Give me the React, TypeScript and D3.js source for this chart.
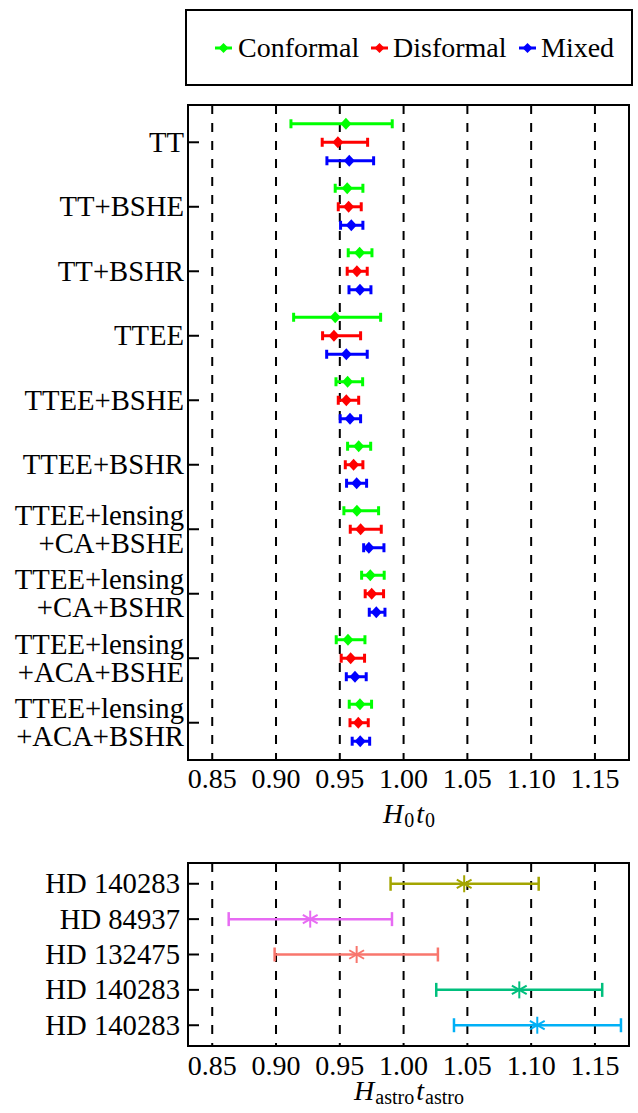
import React from "react";
import * as d3 from "d3";

const categories = [
  "TT", "TT+BSHE", "TT+BSHR", "TTEE", "TTEE+BSHE", "TTEE+BSHR",
  "TTEE+lensing\n+CA+BSHE", "TTEE+lensing\n+CA+BSHR",
  "TTEE+lensing\n+ACA+BSHE", "TTEE+lensing\n+ACA+BSHR",
];
const seriesNames = ["Conformal", "Disformal", "Mixed"];
const seriesColors = ["#00ff00", "#ff0000", "#0000ff"];
// [center, low, high] for each category
const conformal = [
  [0.9548, 0.9117, 0.9911], [0.9558, 0.9464, 0.9681], [0.9655, 0.9566, 0.9752],
  [0.9464, 0.9138, 0.9820], [0.9561, 0.9470, 0.9679], [0.9648, 0.9561, 0.9742],
  [0.9634, 0.9532, 0.9804], [0.9739, 0.9671, 0.9848], [0.9564, 0.9472, 0.9697],
  [0.9658, 0.9574, 0.9749],
];
const disformal = [
  [0.9485, 0.9362, 0.9718], [0.9569, 0.9488, 0.9668], [0.9634, 0.9558, 0.9715],
  [0.9454, 0.9365, 0.9663], [0.9551, 0.9488, 0.9648], [0.9608, 0.9543, 0.9681],
  [0.9663, 0.9582, 0.9825], [0.9750, 0.9699, 0.9843], [0.9585, 0.9511, 0.9694],
  [0.9645, 0.9580, 0.9723],
];
const mixed = [
  [0.9574, 0.9399, 0.9765], [0.9590, 0.9506, 0.9681], [0.9658, 0.9572, 0.9744],
  [0.9551, 0.9397, 0.9715], [0.9580, 0.9503, 0.9663], [0.9632, 0.9553, 0.9710],
  [0.9728, 0.9687, 0.9846], [0.9786, 0.9731, 0.9854], [0.9619, 0.9551, 0.9707],
  [0.9660, 0.9597, 0.9734],
];
const seriesData = [conformal, disformal, mixed];

const starNames = ["HD 140283", "HD 84937", "HD 132475", "HD 140283", "HD 140283"];
const starValues = [
  [1.0475, 0.9898, 1.1059], [0.9268, 0.8629, 0.9909], [0.9632, 0.8989, 1.0269],
  [1.0907, 1.0256, 1.1557], [1.1048, 1.0395, 1.1704],
];
const starColors = ["#a3a500", "#e76bf3", "#f8766d", "#00bf7d", "#00b0f6"];

const xTicks = [0.85, 0.9, 0.95, 1.0, 1.05, 1.1, 1.15];

const FONT = `"Liberation Serif", "Times New Roman", serif`;
const FS = 28;
const FSL = 28.7;
const SUB = 20;

export default function App() {
  const L = 188, R = 629;
  const x = d3.scaleLinear().domain([0.831, 1.1767]).range([L, R]);
  const top1 = 105, bot1 = 760;
  const y1 = d3.scalePoint<number>().domain(categories.map((_, i) => i)).range([top1, bot1]).padding(0.578);
  const top2 = 863, bot2 = 1046;
  const y2 = d3.scalePoint<number>().domain(starNames.map((_, i) => i)).range([top2, bot2]).padding(0.587);
  const offsets = [-18.5, 0, 18.5];

  const diamond = (cx: number, cy: number, w: number, h: number) =>
    `M${cx},${cy - h}L${cx + w},${cy}L${cx},${cy + h}L${cx - w},${cy}Z`;

  const grid = (t: number, b: number) =>
    xTicks.map((v) => (
      <line key={v} x1={x(v)} x2={x(v)} y1={t} y2={b} stroke="#000" strokeWidth={2} strokeDasharray="9,9" />
    ));

  const legendItems = [
    { x0: 215, tx: 238 },
    { x0: 371, tx: 393 },
    { x0: 519, tx: 541 },
  ];
  const ts: React.CSSProperties = { fontFamily: FONT };

  return (
    <svg width={638} height={1113} style={{ position: "absolute", left: 0, top: 0, background: "#fff" }}>
      {/* Legend */}
      <rect x={186} y={10} width={446} height={75} fill="#fff" stroke="#000" strokeWidth={2} />
      {seriesNames.map((n, i) => (
        <g key={n}>
          <line x1={legendItems[i].x0} x2={legendItems[i].x0 + 17} y1={48} y2={48} stroke={seriesColors[i]} strokeWidth={3} />
          <path d={diamond(legendItems[i].x0 + 8.5, 48, 5, 5)} fill={seriesColors[i]} />
          <text x={legendItems[i].tx} y={57} fontSize={FS} style={ts}>{n}</text>
        </g>
      ))}

      {/* Top panel */}
      {grid(top1, bot1)}
      {seriesData.map((ser, s) =>
        ser.map((d, i) => {
          const cy = (y1(i) as number) + offsets[s];
          const c = seriesColors[s];
          return (
            <g key={`${s}-${i}`}>
              <line x1={x(d[1])} x2={x(d[2])} y1={cy} y2={cy} stroke={c} strokeWidth={3} />
              <line x1={x(d[1])} x2={x(d[1])} y1={cy - 4.5} y2={cy + 4.5} stroke={c} strokeWidth={3} />
              <line x1={x(d[2])} x2={x(d[2])} y1={cy - 4.5} y2={cy + 4.5} stroke={c} strokeWidth={3} />
              <path d={diamond(x(d[0]), cy, 5.5, 6)} fill={c} />
            </g>
          );
        })
      )}
      <rect x={L} y={top1} width={R - L} height={bot1 - top1} fill="none" stroke="#000" strokeWidth={2} />
      {categories.map((c, i) => {
        const cy = y1(i) as number;
        const lines = c.split("\n");
        return (
          <g key={i}>
            <line x1={L} x2={L + 11} y1={cy} y2={cy} stroke="#000" strokeWidth={2} />
            {lines.map((ln, j) => (
              <text key={j} x={184} y={cy + 9.5 + (j - (lines.length - 1) / 2) * 28} fontSize={FSL} textAnchor="end" style={ts}>{ln}</text>
            ))}
          </g>
        );
      })}
      {xTicks.map((v) => (
        <text key={v} x={x(v)} y={788} fontSize={FS} textAnchor="middle" style={ts}>{v.toFixed(2)}</text>
      ))}
      <text x={409} y={823} fontSize={FS} textAnchor="middle" style={ts}>
        <tspan fontStyle="italic">H</tspan>
        <tspan fontSize={SUB} dx={1} dy={4}>0</tspan>
        <tspan fontStyle="italic" dx={2} dy={-4}>t</tspan>
        <tspan fontSize={SUB} dx={1} dy={4}>0</tspan>
      </text>

      {/* Bottom panel */}
      {grid(top2, bot2)}
      {starValues.map((d, i) => {
        const cy = y2(i) as number;
        const c = starColors[i];
        const cx = x(d[0]);
        const r = 8.5;
        return (
          <g key={i}>
            <line x1={x(d[1])} x2={x(d[2])} y1={cy} y2={cy} stroke={c} strokeWidth={2.5} />
            <line x1={x(d[1])} x2={x(d[1])} y1={cy - 7} y2={cy + 7} stroke={c} strokeWidth={2.5} />
            <line x1={x(d[2])} x2={x(d[2])} y1={cy - 7} y2={cy + 7} stroke={c} strokeWidth={2.5} />
            <line x1={cx} x2={cx} y1={cy - r} y2={cy + r} stroke={c} strokeWidth={2} />
            <line x1={cx - r * 0.87} x2={cx + r * 0.87} y1={cy - r * 0.5} y2={cy + r * 0.5} stroke={c} strokeWidth={2} />
            <line x1={cx - r * 0.87} x2={cx + r * 0.87} y1={cy + r * 0.5} y2={cy - r * 0.5} stroke={c} strokeWidth={2} />
          </g>
        );
      })}
      <rect x={L} y={top2} width={R - L} height={bot2 - top2} fill="none" stroke="#000" strokeWidth={2} />
      {starNames.map((n, i) => {
        const cy = y2(i) as number;
        return (
          <g key={i}>
            <line x1={L} x2={L + 11} y1={cy} y2={cy} stroke="#000" strokeWidth={2} />
            <text x={180} y={cy + 9.5} fontSize={FSL} textAnchor="end" style={ts}>{n}</text>
          </g>
        );
      })}
      {xTicks.map((v) => (
        <text key={v} x={x(v)} y={1075} fontSize={FS} textAnchor="middle" style={ts}>{v.toFixed(2)}</text>
      ))}
      <text x={409} y={1100} fontSize={FS} textAnchor="middle" style={ts}>
        <tspan fontStyle="italic">H</tspan>
        <tspan fontSize={SUB} dx={1} dy={4}>astro</tspan>
        <tspan fontStyle="italic" dx={2} dy={-4}>t</tspan>
        <tspan fontSize={SUB} dx={1} dy={4}>astro</tspan>
      </text>
    </svg>
  );
}
